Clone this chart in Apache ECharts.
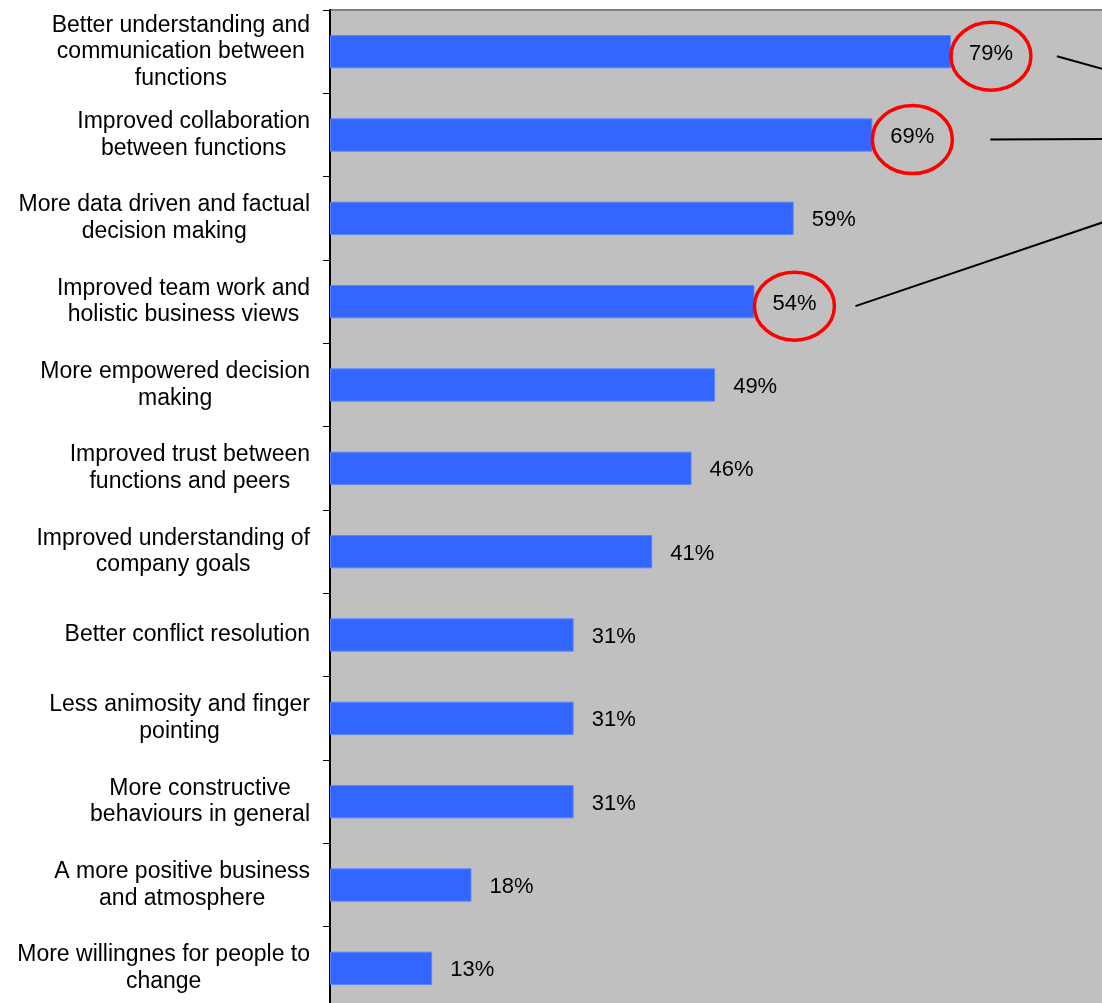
<!DOCTYPE html>
<html>
<head>
<meta charset="utf-8">
<style>
  html, body { margin: 0; padding: 0; background: #ffffff; }
  #chart { width: 1102px; height: 1003px; }
</style>
<script src="https://cdn.jsdelivr.net/npm/echarts@6/dist/echarts.min.js"></script>
</head>
<body>
<div id="chart"></div>
<script>
// Benefits reported, share of respondents (%)
const categories = [
  'Better understanding and\ncommunication between\nfunctions',
  'Improved collaboration\nbetween functions',
  'More data driven and factual\ndecision making',
  'Improved team work and\nholistic business views',
  'More empowered decision\nmaking',
  'Improved trust between\nfunctions and peers',
  'Improved understanding of\ncompany goals',
  'Better conflict resolution',
  'Less animosity and finger\npointing',
  'More constructive\nbehaviours in general',
  'A more positive business\nand atmosphere',
  'More willingnes for people to\nchange'
];
const values = [79, 69, 59, 54, 49, 46, 41, 31, 31, 31, 18, 13];

// Highlighted answers (category index) and the gap before each callout line starts
const highlighted = [0, 1, 3];
const lineGaps = [26, 38, 21];

const FONT = '"Liberation Sans", Arial, sans-serif';
const chart = echarts.init(document.getElementById('chart'));

chart.setOption({
  animation: false,
  backgroundColor: '#ffffff',
  grid: {
    left: 330, top: 10, width: 786, height: 1000,
    outerBoundsMode: 'none',
    containLabel: false,
    show: true, backgroundColor: '#C0C0C0',
    borderColor: '#808080', borderWidth: 2
  },
  xAxis: {
    type: 'value', min: 0, max: 100,
    show: false
  },
  yAxis: {
    type: 'category',
    data: categories,
    inverse: true,
    axisLine: { show: true, lineStyle: { color: '#000000', width: 2 } },
    axisTick: { show: true, length: 7, lineStyle: { color: '#000000', width: 1 } },
    splitLine: { show: false },
    axisLabel: {
      margin: 20,
      align: 'right',
      formatter: function (v) {
        return v.split('\n').map(function (l) { return '{c|' + l + '}'; }).join('\n');
      },
      rich: {
        c: { align: 'center', fontSize: 23, lineHeight: 26.5, fontFamily: FONT, color: '#000000' }
      }
    }
  },
  series: [{
    type: 'bar',
    data: values,
    barCategoryGap: '60%',
    itemStyle: { color: '#3366FF', borderColor: '#5c86ff', borderWidth: 1 },
    label: {
      show: true,
      position: 'right',
      distance: 18,
      offset: [0, 2],
      formatter: '{c}%',
      fontSize: 22,
      fontFamily: FONT,
      color: '#000000'
    }
  }]
});

// Red rings around the highlighted answers, with lines converging to a callout off to the right
function drawCallouts() {
  const target = chart.convertToPixel({ gridIndex: 0 }, [130, 1]);
  target[1] += 3;
  const elements = [];
  highlighted.forEach(function (idx, k) {
    const end = chart.convertToPixel({ gridIndex: 0 }, [values[idx], idx]);
    const cx = end[0] + 40;
    const cy = end[1] + 4.5;
    const rx = 40, ry = 34;
    elements.push({
      type: 'ellipse', z: 100,
      shape: { cx: cx, cy: cy, rx: rx, ry: ry },
      style: { fill: null, stroke: '#FF0000', lineWidth: 3.5 }
    });
    elements.push({
      type: 'line', z: 100,
      shape: { x1: cx + rx + lineGaps[k], y1: cy, x2: target[0], y2: target[1] },
      style: { stroke: '#000000', lineWidth: 2 }
    });
  });
  chart.setOption({ graphic: { elements: elements } });
}
drawCallouts();
</script>
</body>
</html>
